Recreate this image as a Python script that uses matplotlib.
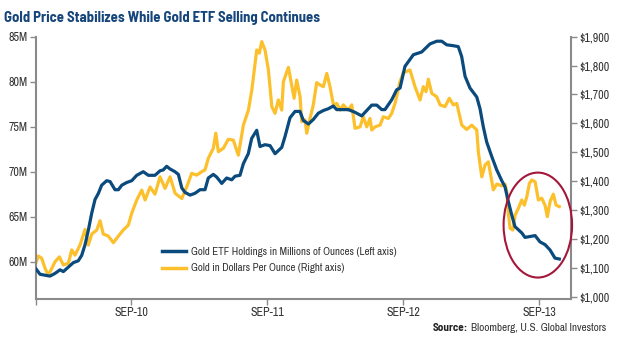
import matplotlib
matplotlib.use("Agg")
import matplotlib.pyplot as plt
from matplotlib.patches import Ellipse
from matplotlib.lines import Line2D

plt.rcParams['font.family'] = ['Archivo Narrow', 'DejaVu Sans']
title_font = ['Barlow Semi Condensed', 'DejaVu Sans']

# Gold ETF holdings (millions of ounces), decimal year
etf_year = [2009.968, 2009.998, 2010.071, 2010.108, 2010.145, 2010.169, 2010.206, 2010.243,
            2010.279, 2010.304, 2010.329, 2010.353, 2010.378, 2010.402, 2010.427, 2010.451,
            2010.488, 2010.513, 2010.549, 2010.574, 2010.599, 2010.635, 2010.672, 2010.709,
            2010.733, 2010.757, 2010.794, 2010.843, 2010.880, 2010.904, 2010.929, 2010.954,
            2010.990, 2011.015, 2011.040, 2011.064, 2011.101, 2011.137, 2011.174, 2011.211,
            2011.235, 2011.272, 2011.297, 2011.334, 2011.370, 2011.407, 2011.432, 2011.468,
            2011.493, 2011.529, 2011.554, 2011.591, 2011.615, 2011.652, 2011.689, 2011.726,
            2011.775, 2011.799, 2011.836, 2011.873, 2011.909, 2011.934, 2011.971, 2012.007,
            2012.044, 2012.081, 2012.118, 2012.154, 2012.179, 2012.216, 2012.265, 2012.314,
            2012.363, 2012.400, 2012.437, 2012.474, 2012.510, 2012.534, 2012.584, 2012.620,
            2012.645, 2012.681, 2012.743, 2012.804, 2012.865, 2012.915, 2012.951, 2012.988,
            2013.037, 2013.073, 2013.098, 2013.123, 2013.159, 2013.209, 2013.233, 2013.257,
            2013.282, 2013.319, 2013.356, 2013.393, 2013.417, 2013.441, 2013.466, 2013.490,
            2013.540, 2013.564, 2013.601, 2013.638, 2013.674, 2013.711, 2013.748, 2013.784,
            2013.816]
etf_holdings = [59.2, 58.6, 58.4, 58.7, 59.1, 58.9, 59.4, 59.9,
                60.1, 60.7, 61.9, 63.5, 65.4, 66.9, 67.6, 68.5,
                69.0, 68.9, 68.0, 68.0, 68.5, 68.8, 69.0, 69.6,
                69.8, 70.0, 69.6, 69.6, 70.1, 70.2, 70.6, 70.3,
                70.0, 69.7, 68.2, 67.7, 67.4, 67.6, 68.0, 68.0,
                69.3, 69.7, 69.4, 68.7, 69.3, 69.1, 69.5, 69.6,
                70.9, 72.0, 73.7, 74.6, 72.8, 73.0, 72.9, 72.0,
                72.7, 73.9, 76.0, 76.7, 76.7, 75.7, 75.3, 75.8,
                76.5, 76.8, 77.0, 77.3, 76.9, 76.9, 76.9, 76.6,
                76.2, 76.8, 77.4, 77.4, 76.9, 76.9, 78.0, 79.1,
                79.3, 81.7, 83.0, 83.3, 84.2, 84.5, 84.5, 84.1,
                84.0, 83.9, 82.8, 80.6, 79.3, 78.3, 77.0, 75.0,
                73.3, 71.7, 70.2, 69.0, 68.3, 66.7, 65.2, 63.9,
                63.2, 62.7, 62.8, 62.9, 62.2, 61.9, 61.3, 60.4,
                60.3]

# Gold price (USD per ounce), decimal year
gold_year = [2009.968, 2009.985, 2010.010, 2010.035, 2010.059, 2010.084, 2010.108, 2010.140,
             2010.169, 2010.206, 2010.231, 2010.255, 2010.292, 2010.329, 2010.353, 2010.378,
             2010.415, 2010.439, 2010.463, 2010.500, 2010.537, 2010.574, 2010.610, 2010.647,
             2010.672, 2010.709, 2010.746, 2010.770, 2010.807, 2010.843, 2010.880, 2010.917,
             2010.954, 2010.991, 2011.040, 2011.077, 2011.113, 2011.150, 2011.187, 2011.211,
             2011.235, 2011.272, 2011.290, 2011.309, 2011.346, 2011.382, 2011.419, 2011.456,
             2011.493, 2011.530, 2011.555, 2011.591, 2011.610, 2011.628, 2011.652, 2011.677,
             2011.702, 2011.726, 2011.750, 2011.775, 2011.787, 2011.824, 2011.841, 2011.866,
             2011.885, 2011.910, 2011.922, 2011.946, 2011.959, 2011.983, 2012.007, 2012.032,
             2012.057, 2012.081, 2012.106, 2012.130, 2012.155, 2012.180, 2012.204, 2012.228,
             2012.265, 2012.290, 2012.314, 2012.351, 2012.375, 2012.400, 2012.424, 2012.437,
             2012.461, 2012.498, 2012.522, 2012.559, 2012.584, 2012.608, 2012.645, 2012.669,
             2012.718, 2012.755, 2012.792, 2012.816, 2012.836, 2012.853, 2012.878, 2012.915,
             2012.939, 2012.976, 2013.007, 2013.037, 2013.062, 2013.099, 2013.135, 2013.172,
             2013.209, 2013.221, 2013.246, 2013.270, 2013.294, 2013.331, 2013.356, 2013.393,
             2013.417, 2013.430, 2013.441, 2013.454, 2013.474, 2013.491, 2013.515, 2013.540,
             2013.559, 2013.577, 2013.596, 2013.613, 2013.638, 2013.662, 2013.687, 2013.711,
             2013.728, 2013.748, 2013.772, 2013.792, 2013.816]
gold_price = [1118, 1141, 1133, 1098, 1075, 1098, 1121, 1138,
              1110, 1116, 1162, 1144, 1179, 1233, 1179, 1217,
              1231, 1263, 1217, 1210, 1187, 1210, 1231, 1248,
              1289, 1335, 1369, 1335, 1380, 1355, 1415, 1375,
              1415, 1358, 1340, 1381, 1427, 1421, 1433, 1439,
              1479, 1514, 1566, 1502, 1514, 1545, 1542, 1490,
              1594, 1646, 1715, 1854, 1843, 1883, 1854, 1785,
              1658, 1635, 1681, 1646, 1744, 1794, 1750, 1687,
              1750, 1692, 1606, 1612, 1566, 1617, 1664, 1741,
              1733, 1727, 1773, 1727, 1664, 1669, 1646, 1664,
              1646, 1664, 1583, 1588, 1623, 1588, 1617, 1577,
              1588, 1594, 1623, 1617, 1635, 1669, 1745, 1775,
              1785, 1727, 1681, 1727, 1710, 1753, 1704, 1692,
              1664, 1658, 1687, 1664, 1669, 1594, 1579, 1594,
              1577, 1500, 1415, 1456, 1467, 1370, 1390, 1384,
              1390, 1363, 1289, 1237, 1231, 1283, 1306, 1335,
              1317, 1346, 1392, 1404, 1398, 1335, 1341, 1317,
              1277, 1329, 1355, 1317, 1312]

tick_years = [2010.667, 2011.667, 2012.667, 2013.667]
tick_labels = ['SEP-10', 'SEP-11', 'SEP-12', 'SEP-13']
left_ticks = [60, 65, 70, 75, 80, 85]
right_ticks = [1000, 1100, 1200, 1300, 1400, 1500, 1600, 1700, 1800, 1900]

blue = '#0b4a7c'
gold = '#fcc02c'
grey = '#8a8a8a'
text_col = '#333333'

fig = plt.figure(figsize=(6.29, 3.51), dpi=100)
ax = fig.add_axes([0.0572, 0.148, 0.8506, 0.7474])
ax2 = ax.twinx()

ax2.plot(gold_year, gold_price, color=gold, lw=2.3, solid_joinstyle='round')
ax.plot(etf_year, etf_holdings, color=blue, lw=2.3, solid_joinstyle='round', zorder=5)
ax.set_zorder(ax2.get_zorder() + 1)
ax.patch.set_visible(False)

ax.set_xlim(2009.968, 2013.902)
ax.set_ylim(55.85, 85)
ax2.set_ylim(992, 1900)

ax.set_xticks(tick_years)
ax.set_xticklabels(tick_labels)
ax.set_xticks([2009.968], minor=True)
ax.set_yticks(left_ticks)
ax.set_yticklabels(['%dM' % v for v in left_ticks])
ax2.set_yticks(right_ticks)
ax2.set_yticklabels(['${:,}'.format(v) for v in right_ticks])

for a in (ax, ax2):
    a.spines['top'].set_visible(False)
    for s in ('left', 'right', 'bottom'):
        a.spines[s].set_color(grey)
        a.spines[s].set_linewidth(1.5)
    a.tick_params(colors=grey, labelcolor=text_col, labelsize=8.6, length=4, width=1, pad=2)
ax.spines['right'].set_visible(False)
ax2.spines['left'].set_visible(False)
ax2.spines['bottom'].set_visible(False)
ax.tick_params(axis='x', pad=2)
ax.tick_params(axis='x', which='minor', colors=grey, length=4, width=1)

# red circle around the latest period
ell = Ellipse((0.938, 0.282), 0.128, 0.400, transform=ax.transAxes, fill=False,
              edgecolor='#a5163b', lw=1.5, clip_on=False, zorder=10)
ax.add_patch(ell)

handles = [Line2D([], [], color=blue, lw=2.5), Line2D([], [], color=gold, lw=2.5)]
ax.legend(handles, ['Gold ETF Holdings in Millions of Ounces (Left axis)',
                    'Gold in Dollars Per Ounce (Right axis)'],
          loc='lower left', bbox_to_anchor=(0.235, 0.098), frameon=False,
          borderpad=0, borderaxespad=0, fontsize=7.9, handlelength=2.2,
          handletextpad=0.45, labelspacing=0.55, labelcolor=text_col)

fig.text(0.006, 0.95, 'Gold Price Stabilizes While Gold ETF Selling Continues',
         fontsize=10.6, fontweight='bold', color='#15457a', va='center', ha='left',
         family=title_font)

src = fig.text(0.964, 0.066, 'Bloomberg, U.S. Global Investors', fontsize=8.0,
               color=text_col, va='center', ha='right')
r = fig.canvas.get_renderer()
bb = src.get_window_extent(r)
fig.text((bb.x0 - 3) / fig.bbox.width, 0.066, 'Source:', fontsize=8.0, fontweight='bold',
         color='#222222', va='center', ha='right', family=title_font)

fig.savefig('out.png', dpi=100)
